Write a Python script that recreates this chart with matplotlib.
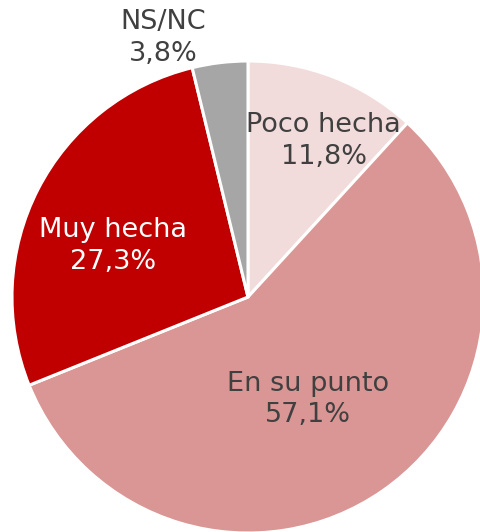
import matplotlib
matplotlib.use("Agg")
import matplotlib.pyplot as plt

labels = ["Poco hecha", "En su punto", "Muy hecha", "NS/NC"]
values = [11.8, 57.1, 27.3, 3.8]
colors = ["#F2DCDB", "#D99694", "#C00000", "#A6A6A6"]
text_colors = ["#404040", "#404040", "white", "#404040"]
# label anchors in data units (radius 1)
label_pos = [(0.32, 0.66), (0.255, -0.435), (-0.57, 0.215), (-0.36, 1.097)]

plt.rcParams['font.family'] = ['DejaVu Sans']

fig = plt.figure(figsize=(4.81, 5.32), dpi=100)
ax = fig.add_axes([12 / 481, -1 / 532, 472 / 481, 472 / 532])

wedges, _ = ax.pie(values, colors=colors, startangle=90, counterclock=False,
                   radius=1, wedgeprops=dict(edgecolor='white', linewidth=2.2))

for lab, val, pos, tc in zip(labels, values, label_pos, text_colors):
    txt = "%s\n%s%%" % (lab, ("%.1f" % val).replace(".", ","))
    ax.text(pos[0], pos[1], txt, ha='center', va='center', fontsize=19.5,
            color=tc, linespacing=1.28)

ax.set_xlim(-1, 1)
ax.set_ylim(-1, 1)
ax.set_aspect('equal')
ax.axis('off')

fig.savefig("out.png", dpi=100)
